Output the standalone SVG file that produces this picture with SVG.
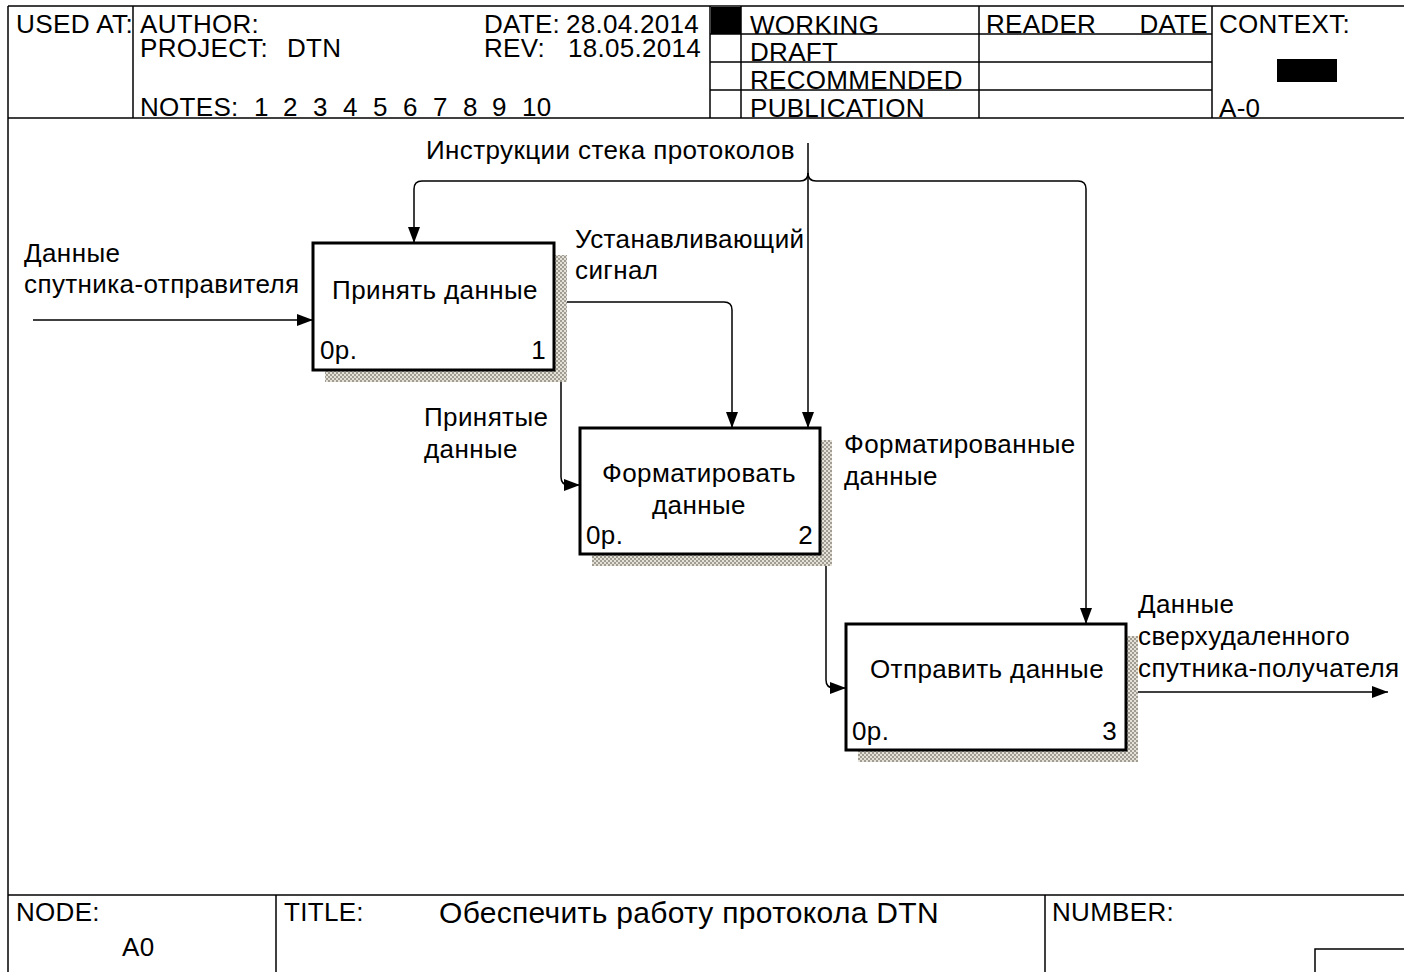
<svg xmlns="http://www.w3.org/2000/svg" width="1404" height="972" viewBox="0 0 1404 972">
  <style>
    text { font-family: "Liberation Sans", Arial, sans-serif; fill: #000; }
    .hdr { font-size: 26px; letter-spacing: 0.3px; }
    .lbl { font-size: 26px; letter-spacing: 0.4px; }
    .frame { stroke: #000; stroke-width: 1.5; fill: none; }
    .box { fill: #fff; stroke: #000; stroke-width: 3; }
    .shadow { fill: url(#hatch); }
    .conn { fill: none; stroke: #000; stroke-width: 1.5; }
    .mid { text-anchor: middle; }
    .end { text-anchor: end; }
  </style>
  <defs>
    <pattern id="hatch" width="4" height="4" patternUnits="userSpaceOnUse">
      <rect width="4" height="4" fill="#e4e1d8"/>
      <rect width="2" height="2" fill="#a09c91"/>
      <rect x="2" y="2" width="2" height="2" fill="#a09c91"/>
    </pattern>
    <marker id="arrow" viewBox="0 0 16 12" refX="16" refY="6" markerWidth="16" markerHeight="12" markerUnits="userSpaceOnUse" orient="auto">
      <path d="M0,0 L16,6 L0,12 Z" fill="#000"/>
    </marker>
  </defs>

  <!-- page frame -->
  <g id="frame">
    <line class="frame" x1="8" y1="6" x2="1404" y2="6"/>
    <line class="frame" x1="8" y1="118" x2="1404" y2="118"/>
    <line class="frame" x1="8" y1="6" x2="8" y2="972"/>
    <line class="frame" x1="133" y1="6" x2="133" y2="118"/>
    <line class="frame" x1="710" y1="6" x2="710" y2="118"/>
    <line class="frame" x1="741" y1="6" x2="741" y2="118"/>
    <line class="frame" x1="979" y1="6" x2="979" y2="118"/>
    <line class="frame" x1="1212" y1="6" x2="1212" y2="118"/>
    <line class="frame" x1="710" y1="34" x2="1212" y2="34"/>
    <line class="frame" x1="710" y1="62" x2="1212" y2="62"/>
    <line class="frame" x1="710" y1="90" x2="1212" y2="90"/>
    <rect x="711" y="7" width="30" height="27" fill="#000"/>
    <rect x="1277" y="59" width="60" height="23" fill="#000"/>
    <!-- footer -->
    <line class="frame" x1="8" y1="895" x2="1404" y2="895"/>
    <line class="frame" x1="276" y1="895" x2="276" y2="972"/>
    <line class="frame" x1="1045" y1="895" x2="1045" y2="972"/>
    <polyline class="frame" points="1315,972 1315,949 1404,949"/>
  </g>

  <g id="header-text" class="hdr">
    <text x="16" y="33" textLength="117" lengthAdjust="spacingAndGlyphs">USED AT:</text>
    <text x="140" y="33">AUTHOR:</text>
    <text x="140" y="57">PROJECT:<tspan x="287">DTN</tspan></text>
    <text x="140" y="116">NOTES:<tspan x="254">1</tspan><tspan x="283">2</tspan><tspan x="313">3</tspan><tspan x="343">4</tspan><tspan x="373">5</tspan><tspan x="403">6</tspan><tspan x="433">7</tspan><tspan x="463">8</tspan><tspan x="492">9</tspan><tspan x="522">10</tspan></text>
    <text x="484" y="33">DATE:<tspan x="566">28.04.2014</tspan></text>
    <text x="484" y="57">REV:<tspan x="568">18.05.2014</tspan></text>
    <text x="750" y="34">WORKING</text>
    <text x="750" y="61">DRAFT</text>
    <text x="750" y="89">RECOMMENDED</text>
    <text x="750" y="117">PUBLICATION</text>
    <text x="986" y="33">READER</text>
    <text x="1208" y="33" class="end">DATE</text>
    <text x="1219" y="33">CONTEXT:</text>
    <text x="1219" y="117">A-0</text>
  </g>

  <g id="footer-text" class="hdr">
    <text x="16" y="921">NODE:</text>
    <text x="122" y="956">A0</text>
    <text x="284" y="921">TITLE:</text>
    <text x="439" y="923" style="font-size:30px;letter-spacing:0.3px">Обеспечить работу протокола DTN</text>
    <text x="1052" y="921">NUMBER:</text>
  </g>

  <!-- connectors -->
  <g id="connectors">
    <path class="conn" d="M33,320 H313" marker-end="url(#arrow)"/>
    <path class="conn" d="M808,143 V428" marker-end="url(#arrow)"/>
    <path class="conn" d="M808,173 Q808,181 800,181 H422 Q414,181 414,189 V243" marker-end="url(#arrow)"/>
    <path class="conn" d="M808,173 Q808,181 816,181 H1078 Q1086,181 1086,189 V624" marker-end="url(#arrow)"/>
    <path class="conn" d="M554,302 H724 Q732,302 732,310 V428" marker-end="url(#arrow)"/>
    <path class="conn" d="M554,366 Q561,366 561,373 V477 Q561,485 569,485 H580" marker-end="url(#arrow)"/>
    <path class="conn" d="M820,460 Q826,460 826,466 V680 Q826,688 834,688 H846" marker-end="url(#arrow)"/>
    <path class="conn" d="M1125,692 H1388" marker-end="url(#arrow)"/>
  </g>

  <g id="connector-labels" class="lbl">
    <text x="24" y="262">Данные</text>
    <text x="24" y="293">спутника-отправителя</text>
    <text x="426" y="159">Инструкции стека протоколов</text>
    <text x="575" y="248">Устанавливающий</text>
    <text x="575" y="279">сигнал</text>
    <text x="424" y="426">Принятые</text>
    <text x="424" y="458">данные</text>
    <text x="844" y="453">Форматированные</text>
    <text x="844" y="485">данные</text>
    <text x="1138" y="613">Данные</text>
    <text x="1138" y="645">сверхудаленного</text>
    <text x="1138" y="677">спутника-получателя</text>
  </g>

  <g id="node-1" class="lbl">
    <rect class="shadow" x="325" y="255" width="242" height="127"/>
    <rect class="box" x="313" y="243" width="241" height="127"/>
    <text x="435" y="299" class="mid">Принять данные</text>
    <text x="320" y="359">0р.</text>
    <text x="546" y="359" class="end">1</text>
  </g>

  <g id="node-2" class="lbl">
    <rect class="shadow" x="592" y="440" width="240" height="126"/>
    <rect class="box" x="580" y="428" width="240" height="126"/>
    <text x="699" y="482" class="mid">Форматировать</text>
    <text x="699" y="514" class="mid">данные</text>
    <text x="586" y="544">0р.</text>
    <text x="813" y="544" class="end">2</text>
  </g>

  <g id="node-3" class="lbl">
    <rect class="shadow" x="858" y="636" width="280" height="126"/>
    <rect class="box" x="846" y="624" width="280" height="126"/>
    <text x="987" y="678" class="mid">Отправить данные</text>
    <text x="852" y="740">0р.</text>
    <text x="1117" y="740" class="end">3</text>
  </g>
</svg>
